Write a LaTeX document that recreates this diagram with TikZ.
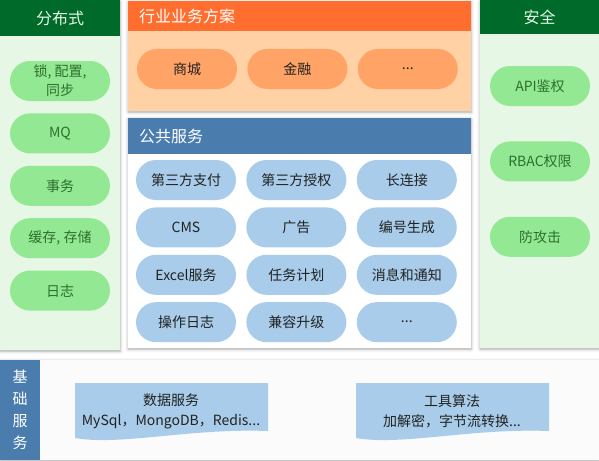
\documentclass[tikz,border=0pt]{standalone}
\usepackage{fontspec}
\setmainfont{Noto Sans CJK SC}
\usepackage{tikz}
\usetikzlibrary{positioning,shadows.blur}

\definecolor{greenHead}{HTML}{006A2A}
\definecolor{greenBody}{HTML}{E6F7E6}
\definecolor{greenPill}{HTML}{93E993}
\definecolor{greenText}{HTML}{2E6E2E}
\definecolor{orangeHead}{HTML}{FF6D2F}
\definecolor{orangeBody}{HTML}{FFD1A4}
\definecolor{orangePill}{HTML}{FFA466}
\definecolor{blueHead}{HTML}{4A7CAE}
\definecolor{bluePill}{HTML}{A8CCE9}
\definecolor{baseBody}{HTML}{FBFBFB}
\definecolor{pillText}{HTML}{222222}

\begin{document}
\begin{tikzpicture}
    [ x = 1pt, y = -1pt
    , panel/.style =
      { anchor = north west, inner sep = 0pt
      , blur shadow = {shadow xshift = 0pt, shadow yshift = -1pt, shadow blur radius = 3pt, shadow opacity = 35} }
    , head/.style =
      { anchor = north west, inner sep = 0pt, font = \fontsize{16}{19}\selectfont }
    , lefthead/.style =
      { head, align = left, text width = 321pt, inner xsep = 11pt }
    , pill/.style =
      { rounded corners = 20pt, minimum width = 100pt, minimum height = 40pt
      , inner sep = 0pt, align = center, font = \fontsize{14}{19}\selectfont }
    , gpill/.style =
      { pill, fill = greenPill, text = greenText }
    , opill/.style =
      { pill, fill = orangePill, text = pillText }
    , bpill/.style =
      { pill, fill = bluePill, text = pillText }
    , wave/.style =
      { fill = bluePill, draw = none }
    , wavetext/.style =
      { align = center, text = pillText, font = \fontsize{14}{20}\selectfont }
    ]
    \useasboundingbox (0,0) rectangle (599,460);

    % panels
    \node [panel, fill = greenBody, minimum width = 120pt, minimum height = 350pt] (dist) at (0,0) {};
    \node [head, fill = greenHead, text = greenBody, minimum width = 120pt, minimum height = 36pt] (distHead) at (0,0) {分布式};
    \node [panel, fill = orangeBody, minimum width = 343pt, minimum height = 110pt] (trade) at (128,1) {};
    \node [lefthead, fill = orangeHead, text = white, minimum height = 30pt] (tradeHead) at (128,1) {行业业务方案};
    \node [panel, fill = white, minimum width = 343pt, minimum height = 230pt] (pub) at (128,118) {};
    \node [lefthead, fill = blueHead, text = white, minimum height = 36pt] (pubHead) at (128,118) {公共服务};
    \node [panel, fill = greenBody, minimum width = 119pt, minimum height = 348pt] (sec) at (480,0) {};
    \node [head, fill = greenHead, text = greenBody, minimum width = 119pt, minimum height = 34pt] (secHead) at (480,0) {安全};
    \node [panel, fill = baseBody, minimum width = 599pt, minimum height = 100pt] (base) at (0,360) {};
    \node [head, fill = blueHead, text = white, align = center, minimum width = 40pt, minimum height = 100pt
          , font = \fontsize{15}{22}\selectfont] (baseHead) at (0,360) {基\\础\\服\\务};

    % distributed
    \node [gpill] (lock) at (60,81) {锁, 配置,\\同步};
    \node [gpill] (mq) [below=12pt of lock] {MQ};
    \node [gpill] (tx) [below=12pt of mq] {事务};
    \node [gpill] (cache) [below=12pt of tx] {缓存, 存储};
    \node [gpill] (log) [below=12pt of cache] {日志};

    % trade
    \node [opill] (mall) at (187,69) {商城};
    \node [opill] (fin) [right=10pt of mall] {金融};
    \node [opill] (tradeMore) [right=10pt of fin] {...};

    % public
    \node [bpill] (pay) at (186,180) {第三方支付};
    \node [bpill] (auth) [right=10pt of pay] {第三方授权};
    \node [bpill] (conn) [right=10pt of auth] {长连接};
    \node [bpill] (cms) [below=7pt of pay] {CMS};
    \node [bpill] (ad) [below=7pt of auth] {广告};
    \node [bpill] (num) [below=7pt of conn] {编号生成};
    \node [bpill] (excel) [below=7pt of cms] {Excel服务};
    \node [bpill] (job) [below=7pt of ad] {任务计划};
    \node [bpill] (msg) [below=7pt of num] {消息和通知};
    \node [bpill] (oplog) [below=7pt of excel] {操作日志};
    \node [bpill] (compat) [below=7pt of job] {兼容升级};
    \node [bpill] (pubMore) [below=7pt of msg] {...};

    % security
    \node [gpill] (api) at (540,86) {API鉴权};
    \node [gpill] (rbac) [below=35pt of api] {RBAC权限};
    \node [gpill] (defend) [below=35pt of rbac] {防攻击};

    % base
    \fill [wave] (75,383) -- (268,383) -- (268,431)
      .. controls (190,428) and (120,446) .. (75,438) -- cycle;
    \node [wavetext] (data) at (171,411) {数据服务\\MySql，MongoDB，Redis...};
    \fill [wave] (356,383) -- (549,383) -- (549,431)
      .. controls (471,428) and (401,446) .. (356,438) -- cycle;
    \node [wavetext] (tool) at (452,411) {工具算法\\加解密，字节流转换...};
\end{tikzpicture}
\end{document}
